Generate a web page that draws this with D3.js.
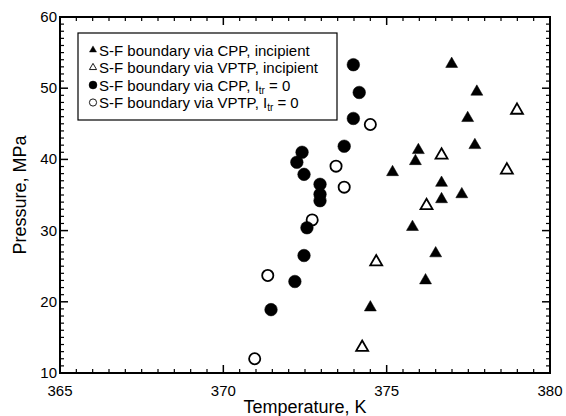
<!DOCTYPE html>
<html>
<head>
  <meta charset="UTF-8">
  <style>
    body { margin: 0; background: white; }
    text { font-family: "Liberation Sans", Arial, sans-serif; fill: black; }
  </style>
</head>
<body>
<svg></svg>
<script src="https://d3js.org/d3.v7.min.js"></script>
<script>
let width = 566, height = 416;

// Data: [temperature K, pressure MPa]
let cppIncipient = [
  [376.99, 53.4], [377.76, 49.5], [377.48, 45.8], [377.70, 42.0], [375.97, 41.3],
  [375.88, 39.75], [375.18, 38.2], [376.68, 36.7], [377.30, 35.1], [376.68, 34.4],
  [375.79, 30.5], [376.50, 26.8], [376.19, 23.0], [374.50, 19.2]
];
let vptpIncipient = [
  [378.99, 46.9], [376.68, 40.6], [378.68, 38.5], [376.22, 33.5], [374.68, 25.6], [374.25, 13.6]
];
let cppZero = [
  [373.98, 53.3], [374.16, 49.4], [373.98, 45.75], [373.70, 41.85], [372.41, 41.0],
  [372.25, 39.6], [372.47, 37.9], [372.96, 36.5], [372.96, 35.1], [372.96, 34.2],
  [372.56, 30.4], [372.47, 26.5], [372.19, 22.85], [371.46, 18.9]
];
let vptpZero = [
  [374.50, 44.9], [373.45, 39.05], [373.70, 36.1], [372.72, 31.5], [371.36, 23.7], [370.96, 12.0]
];
let xTicks = [365, 370, 375, 380];
let yTicks = [10, 20, 30, 40, 50, 60];

let svg = d3.select("svg").attr("width", width).attr("height", height);

let pLeft = 60, pRight = 550, pTop = 17, pBottom = 373;
let x = d3.scaleLinear().domain([365, 380]).range([pLeft, pRight]);
let y = d3.scaleLinear().domain([10, 60]).range([pBottom, pTop]);

// minor + major ticks on all four sides, pointing inward
let xMinor = d3.range(365, 380.01, 0.5);
let yMinor = d3.range(10, 60.01, 1);
let ticks = svg.append("g").attr("stroke", "black");
xMinor.forEach(v => {
  let major = Math.abs(v % 5) < 0.01;
  let len = major ? 8 : 4;
  ticks.append("line").attr("x1", x(v)).attr("x2", x(v)).attr("y1", pBottom).attr("y2", pBottom - len).attr("stroke-width", major ? 1.5 : 1.2);
  ticks.append("line").attr("x1", x(v)).attr("x2", x(v)).attr("y1", pTop).attr("y2", pTop + len).attr("stroke-width", major ? 1.5 : 1.2);
});
yMinor.forEach(v => {
  let major = v % 10 === 0;
  let len = major ? 8 : 4;
  ticks.append("line").attr("y1", y(v)).attr("y2", y(v)).attr("x1", pLeft).attr("x2", pLeft + len).attr("stroke-width", major ? 1.5 : 1.2);
  ticks.append("line").attr("y1", y(v)).attr("y2", y(v)).attr("x1", pRight).attr("x2", pRight - len).attr("stroke-width", major ? 1.5 : 1.2);
});

// frame
svg.append("rect")
  .attr("x", pLeft).attr("y", pTop)
  .attr("width", pRight - pLeft).attr("height", pBottom - pTop)
  .attr("fill", "none").attr("stroke", "black").attr("stroke-width", 2);

// tick labels
svg.selectAll(".xl").data(xTicks).enter().append("text")
  .attr("x", d => x(d)).attr("y", pBottom + 23)
  .attr("text-anchor", "middle").style("font-size", "15px")
  .text(d => d);
svg.selectAll(".yl").data(yTicks).enter().append("text")
  .attr("x", pLeft - 3).attr("y", d => y(d) + 5)
  .attr("text-anchor", "end").style("font-size", "15px")
  .text(d => d);

// axis titles
svg.append("text")
  .attr("x", (pLeft + pRight) / 2).attr("y", 413)
  .attr("text-anchor", "middle").style("font-size", "18px")
  .text("Temperature, K");
svg.append("text")
  .attr("transform", "translate(26," + ((pTop + pBottom) / 2) + ") rotate(-90)")
  .attr("text-anchor", "middle").style("font-size", "18px")
  .text("Pressure, MPa");

// markers
let tri = d3.symbol().type(d3.symbolTriangle);
function drawTriangles(data, filled) {
  svg.append("g").selectAll("path").data(data).enter().append("path")
    .attr("d", tri.size(62)())
    .attr("transform", d => "translate(" + x(d[0]) + "," + y(d[1]) + ")")
    .attr("fill", filled ? "black" : "white")
    .attr("stroke", "black")
    .attr("stroke-width", filled ? 0.5 : 1.8);
}
function drawCircles(data, filled) {
  svg.append("g").selectAll("circle").data(data).enter().append("circle")
    .attr("cx", d => x(d[0])).attr("cy", d => y(d[1]))
    .attr("r", filled ? 6.3 : 5.6)
    .attr("fill", filled ? "black" : "white")
    .attr("stroke", "black")
    .attr("stroke-width", filled ? 0.5 : 1.8);
}
drawCircles(vptpZero, false);
drawCircles(cppZero, true);
drawTriangles(vptpIncipient, false);
drawTriangles(cppIncipient, true);

// legend
let legend = svg.append("g").attr("transform", "translate(78,33)");
legend.append("rect")
  .attr("width", 259).attr("height", 87)
  .attr("fill", "white").attr("stroke", "black").attr("stroke-width", 1.2);

let items = [
  { kind: "tri", filled: true, label: "S-F boundary via CPP, incipient" },
  { kind: "tri", filled: false, label: "S-F boundary via VPTP, incipient" },
  { kind: "circ", filled: true, label: "S-F boundary via CPP, I", sub: true },
  { kind: "circ", filled: false, label: "S-F boundary via VPTP, I", sub: true }
];
items.forEach((it, i) => {
  let cy = 17 + i * 17.5;
  if (it.kind === "tri") {
    legend.append("path")
      .attr("d", d3.symbol().type(d3.symbolTriangle).size(22)())
      .attr("transform", "translate(15," + cy + ")")
      .attr("fill", it.filled ? "black" : "white")
      .attr("stroke", "black").attr("stroke-width", it.filled ? 0.4 : 0.9);
  } else {
    legend.append("circle")
      .attr("cx", 15).attr("cy", cy).attr("r", it.filled ? 4 : 3.6)
      .attr("fill", it.filled ? "black" : "white")
      .attr("stroke", "black").attr("stroke-width", it.filled ? 0.4 : 0.9);
  }
  let t = legend.append("text")
    .attr("x", 21).attr("y", cy + 5.5)
    .style("font-size", "15px");
  t.append("tspan").text(it.label);
  if (it.sub) {
    t.append("tspan").attr("dy", 3).style("font-size", "10px").text("tr");
    t.append("tspan").attr("dy", -3).text(" = 0");
  }
});
</script>
</body>
</html>
